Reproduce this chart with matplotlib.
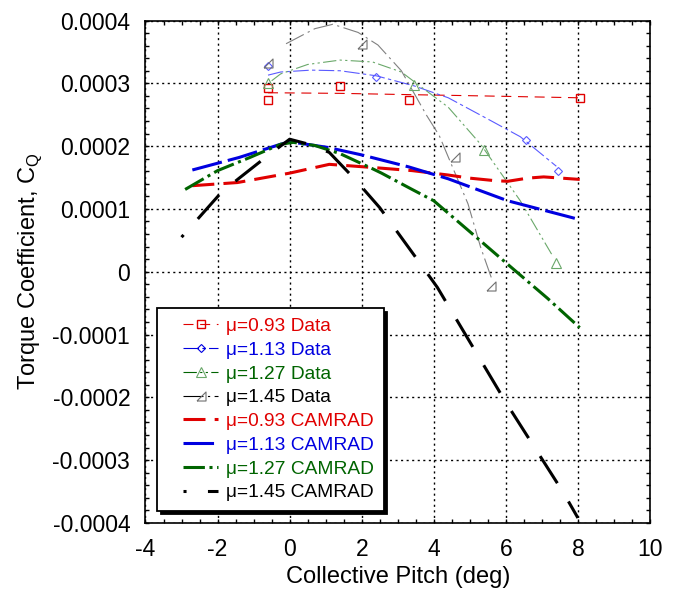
import matplotlib
matplotlib.use("Agg")
import matplotlib.pyplot as plt
from matplotlib.lines import Line2D
from matplotlib.legend_handler import HandlerLine2D
from matplotlib.ticker import MultipleLocator, FuncFormatter

plt.rcParams['font.family'] = ['Liberation Sans', 'DejaVu Sans']
plt.rcParams['axes.unicode_minus'] = False

# --- wind tunnel data (markers) ---
data_x_093 = [-0.6, -0.6, 1.4, 3.3, 8.05]
data_y_093 = [0.000293, 0.000274, 0.000295, 0.000274, 0.000277]
data_x_113 = [-0.6, 2.4, 6.55, 7.45]
data_y_113 = [0.000327, 0.00031, 0.00021, 0.000161]
data_x_127 = [-0.6, 3.45, 5.4, 7.4]
data_y_127 = [0.0003, 0.000297, 0.000194, 0.000014]
data_x_145 = [-0.6, 2.0, 4.6, 5.6]
data_y_145 = [0.000333, 0.000362, 0.000182, -0.000022]

# --- curve fits through the data (thin lines) ---
fit_x_093 = [-0.6, 1.4, 3.3, 5.3, 8.0]
fit_y_093 = [0.000285, 0.000284, 0.000282, 0.00028, 0.000277]
fit_x_113 = [-0.6, -0.25, 0.6, 1.4, 2.4, 3.45, 4.4, 5.6, 6.4, 7.4]
fit_y_113 = [0.000313, 0.000318, 0.000321, 0.00032, 0.000312, 0.000296,
             0.000277, 0.00024, 0.000215, 0.000168]
fit_x_127 = [-0.5, -0.25, 0.5, 1.4, 2.3, 3.1, 4.4, 5.3, 6.4, 7.3]
fit_y_127 = [0.000304, 0.000315, 0.00033, 0.000337, 0.000334, 0.000318,
             0.000262, 0.000203, 0.000113, 0.000025]
fit_x_145 = [-0.1, 0.7, 1.2, 1.9, 2.45, 3.1, 3.8, 4.15, 4.95, 5.3, 5.6]
fit_y_145 = [0.000363, 0.000387, 0.000394, 0.000381, 0.000361, 0.00032,
             0.000249, 0.000217, 0.000108, 0.000039, -0.00001]

# --- CAMRAD predictions (thick lines) ---
cam_x_093 = [-2.7, -1.45, 0.0, 1.1, 2.3, 3.4, 4.4, 5.0, 5.7, 6.05, 6.6, 7.05, 8.05]
cam_y_093 = [0.000137, 0.000142, 0.000157, 0.000171, 0.000166, 0.000161, 0.000154,
             0.000149, 0.000145, 0.000144, 0.000149, 0.000151, 0.000147]
cam_x_113 = [-2.7, -1.4, -0.25, 0.0, 1.05, 2.0, 3.3, 4.4, 6.05, 8.05]
cam_y_113 = [0.000162, 0.000182, 0.000203, 0.000207, 0.000198, 0.000186,
             0.000167, 0.000148, 0.000113, 0.000083]
cam_x_127 = [-2.9, -2.0, -1.1, -0.25, 0.1, 0.7, 1.4, 2.3, 2.55, 3.4, 4.0,
             5.3, 6.15, 7.15, 8.05]
cam_y_127 = [0.000131, 0.000161, 0.000182, 0.000203, 0.000206, 0.000201,
             0.000188, 0.000164, 0.000157, 0.000131, 0.000113, 0.000049,
             0.000007, -0.000042, -0.000089]
cam_x_145 = [-3.0, -2.55, -1.9, -1.4, -0.67, 0.0, 0.6, 1.1, 1.8, 2.5, 3.7,
             4.1, 6.0, 7.6, 8.0]
cam_y_145 = [0.000055, 0.000084, 0.000126, 0.000149, 0.000182, 0.000211,
             0.000202, 0.00019, 0.000148, 0.000102, 0.000007, -0.000025,
             -0.000208, -0.000352, -0.000392]

labels = ['\u03bc=0.93 Data', '\u03bc=1.13 Data', '\u03bc=1.27 Data', '\u03bc=1.45 Data',
          '\u03bc=0.93 CAMRAD', '\u03bc=1.13 CAMRAD', '\u03bc=1.27 CAMRAD', '\u03bc=1.45 CAMRAD']
text_colors = ['#e00000', '#0000e0', '#006400', 'black',
               '#e00000', '#0000e0', '#006400', 'black']

right_tri = [(-1, -1), (1, -1), (1, 1), (-1, -1)]


class ShiftedHandler(HandlerLine2D):
    # legend sample drawn only in the right part of the handle box
    def get_xdata(self, legend, xdescent, ydescent, width, height, fontsize):
        x0 = -xdescent + 0.32 * width
        x1 = -xdescent + width
        return [x0, x1], [0.5 * (x0 + x1)]


fig = plt.figure(figsize=(6.78, 5.96), dpi=100)
ax = fig.add_axes([0.2146, 0.1225, 0.7441, 0.8431])

# thin fit lines
ax.plot(fit_x_093, fit_y_093, color='#e00000', lw=0.8, ls=(0, (9, 6)))
ax.plot(fit_x_113, fit_y_113, color='#5a5aff', lw=0.8, ls=(0, (14, 3, 3, 3)))
ax.plot(fit_x_127, fit_y_127, color='#6aa86a', lw=0.8, ls=(0, (12, 3, 2, 3, 2, 3)))
ax.plot(fit_x_145, fit_y_145, color='#808080', lw=0.8, ls=(0, (18, 4, 2, 4)))

# thick CAMRAD lines
ax.plot(cam_x_093, cam_y_093, color='#e00000', lw=2.2, ls=(0, (7.2, 3)))
ax.plot(cam_x_113, cam_y_113, color='#0000e0', lw=2.2, ls=(0, (10, 2)))
ax.plot(cam_x_127, cam_y_127, color='#006400', lw=2.2, ls=(0, (7, 1.5, 1, 1.5)))
ax.plot(cam_x_145, cam_y_145, color='black', lw=2.2, ls=(9.5, (10.5, 7)))

# data markers
ax.plot(data_x_093, data_y_093, ls='none', marker='s', ms=6, mfc='none', mec='#e00000', mew=1.0)
ax.plot(data_x_113, data_y_113, ls='none', marker='D', ms=4.2, mfc='none', mec='#5a5aff', mew=0.8)
ax.plot(data_x_127, data_y_127, ls='none', marker='^', ms=6.5, mfc='none', mec='#6aa86a', mew=0.8)
ax.plot(data_x_145, data_y_145, ls='none', marker=right_tri, ms=6.5, mfc='none', mec='#707070', mew=0.8)

# legend samples
handles = [
    Line2D([], [], color='#e00000', lw=0.8, ls=(0, (9, 6)), marker='s', ms=6, mfc='none', mew=1.0),
    Line2D([], [], color='#0000e0', lw=0.8, ls=(0, (14, 3, 3, 3)), marker='D', ms=4.2, mfc='none', mew=0.8),
    Line2D([], [], color='#006400', lw=0.8, ls=(0, (12, 3, 2, 3, 2, 3)), marker='^', ms=6.5, mfc='none',
           mec='#6aa86a', mew=0.8),
    Line2D([], [], color='black', lw=0.8, ls=(0, (18, 4, 2, 4)), marker=right_tri, ms=6.5, mfc='none',
           mec='#707070', mew=0.8),
    Line2D([], [], color='#e00000', lw=2.2, ls=(0, (7.2, 3))),
    Line2D([], [], color='#0000e0', lw=2.2, ls=(0, (10, 2))),
    Line2D([], [], color='#006400', lw=2.2, ls=(0, (7, 1.5, 1, 1.5))),
    Line2D([], [], color='black', lw=2.2, ls=(9.5, (10.5, 7))),
]

leg = ax.legend(handles, labels, loc='lower left', bbox_to_anchor=(0.023, 0.024),
                borderaxespad=0, fontsize=13.8, labelcolor=text_colors,
                handlelength=2.7, handletextpad=0.4, labelspacing=0.33, borderpad=0.5,
                fancybox=False, framealpha=1, edgecolor='black',
                shadow={'color': 'black', 'alpha': 1, 'ox': 2.5, 'oy': -2.5},
                handler_map={Line2D: ShiftedHandler()})
leg.get_frame().set_linewidth(1.3)

ax.set_xlim(-4, 10)
ax.set_ylim(-0.0004, 0.0004)
ax.xaxis.set_major_locator(MultipleLocator(2))
ax.xaxis.set_minor_locator(MultipleLocator(0.5))
ax.yaxis.set_major_locator(MultipleLocator(0.0001))
ax.yaxis.set_minor_locator(MultipleLocator(0.00002))
ax.yaxis.set_major_formatter(FuncFormatter(lambda v, p: '%g' % round(v, 6)))
ax.xaxis.set_major_formatter(FuncFormatter(lambda v, p: '%g' % v))

ax.tick_params(which='both', direction='in', top=True, right=True, length=3, width=1.0)
ax.tick_params(axis='x', labelsize=16.5, pad=10.5)
ax.tick_params(axis='y', labelsize=16.5, pad=11)
for s in ax.spines.values():
    s.set_linewidth(1.2)

ax.grid(True, which='major', color='black', lw=1.0, ls=(0, (1.5, 2.5)))

ax.set_xlabel('Collective Pitch (deg)', fontsize=17, labelpad=4)
ax.set_ylabel('Torque Coefficient, C$_\\mathregular{Q}$', fontsize=17, labelpad=6)

fig.savefig('out.png', dpi=100)
